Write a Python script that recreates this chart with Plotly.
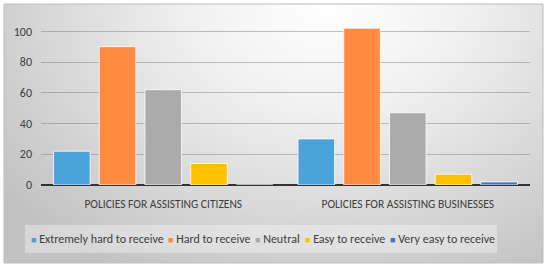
import base64
import plotly.graph_objects as go

categories = ["POLICIES FOR ASSISTING CITIZENS", "POLICIES FOR ASSISTING BUSINESSES"]
series_names = ["Extremely hard to receive", "Hard to receive", "Neutral", "Easy to receive", "Very easy to receive"]
citizens = [22, 90, 62, 14, 0]
businesses = [30, 102, 47, 7, 2]
colors = ["#4AA3DA", "#FF8A40", "#ABABAB", "#FFC000", "#4472C4"]
y_ticks = [0, 20, 40, 60, 80, 100]

FONT = "Carlito, Roboto, sans-serif"

# plot area pixel geometry
W, H = 550, 269
L, R, T, B = 41, 20, 19, 84
PW, PH = W - L - R, H - T - B


def px_x(x):
    return (x - L) / PW


def px_y(y):
    return (H - B - y) / PH


svg = f'''<svg xmlns="http://www.w3.org/2000/svg" width="539" height="259" viewBox="0 0 539 259" preserveAspectRatio="none">
<defs><radialGradient id="g" cx="0.6" cy="0.0" r="0.75" fx="0.6" fy="0.0" gradientTransform="translate(0.6 0) scale(1 1.6) translate(-0.6 0)">
<stop offset="0" stop-color="#ffffff"/><stop offset="0.35" stop-color="#f0f0f0"/><stop offset="1" stop-color="#c2c2c2"/></radialGradient></defs>
<rect x="0" y="0" width="539" height="259" fill="url(#g)"/></svg>'''
src = "data:image/svg+xml;base64," + base64.b64encode(svg.encode()).decode()

fig = go.Figure()
for i, name in enumerate(series_names):
    fig.add_trace(go.Bar(
        x=categories, y=[citizens[i], businesses[i]], name=name,
        marker=dict(color=colors[i], line=dict(color="rgba(255,255,255,0.8)", width=1)),
        showlegend=False,
    ))

fig.add_layout_image(dict(
    source=src, xref="paper", yref="paper",
    x=px_x(4), y=px_y(4), sizex=px_x(543) - px_x(4), sizey=px_y(4) - px_y(263),
    xanchor="left", yanchor="top", sizing="stretch", layer="below",
))

# frame border
fig.add_shape(type="rect", xref="paper", yref="paper",
              x0=px_x(4), x1=px_x(543), y0=px_y(263), y1=px_y(4),
              line=dict(color="#bdbdbd", width=1), fillcolor="rgba(0,0,0,0)", layer="below")
# legend box
fig.add_shape(type="rect", xref="paper", yref="paper",
              x0=px_x(25), x1=px_x(497), y0=px_y(253), y1=px_y(225),
              line=dict(width=0), fillcolor="rgba(255,255,255,0.35)", layer="below")

legend_x = [29, 166, 253, 303, 388]
for i, name in enumerate(series_names):
    fig.add_annotation(
        xref="paper", yref="paper", x=px_x(legend_x[i]), y=px_y(239),
        xanchor="left", yanchor="middle", showarrow=False,
        text=f'<span style="color:{colors[i]};font-size:9px">■</span> {name}',
        font=dict(family=FONT, size=12, color="#404040"),
    )

fig.update_layout(
    width=W, height=H,
    margin=dict(l=L, r=R, t=T, b=B, autoexpand=False),
    paper_bgcolor="white", plot_bgcolor="rgba(0,0,0,0)",
    barmode="group", bargap=0.065, bargroupgap=0.2,
    font=dict(family=FONT, size=12, color="#404040"),
    xaxis=dict(showgrid=False, zeroline=False, showline=False, ticks="", automargin=False,
               tickfont=dict(size=11.5, color="#404040"), ticklabelstandoff=10),
    yaxis=dict(range=[0, 108], tickvals=y_ticks, showgrid=True, automargin=False,
               gridcolor="rgba(120,120,120,0.45)", gridwidth=1,
               zeroline=True, zerolinecolor="#333333", zerolinewidth=2,
               showline=False, ticks="", tickfont=dict(size=12, color="#404040"),
               ticklabelstandoff=8),
)

fig.write_html("out.html", config={"displayModeBar": False},
               post_script="document.body.style.margin='0';")
